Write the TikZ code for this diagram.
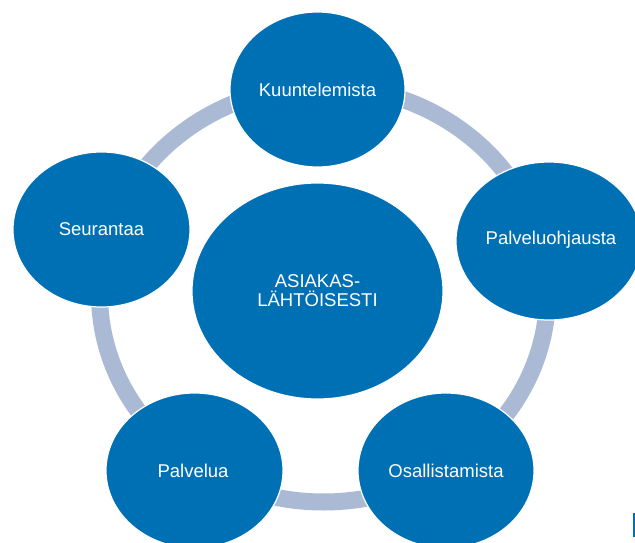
\documentclass[tikz,border=0pt]{standalone}
\usepackage{fontspec}
\setmainfont{Liberation Sans}
\usetikzlibrary{shapes.geometric}
\definecolor{bubbleblue}{RGB}{0,112,181}
\definecolor{ringgray}{RGB}{171,186,212}
\tikzset{
  bubble/.style={ellipse, fill=bubbleblue, draw=white, line width=1.2pt, inner sep=0pt},
  txt/.style={text=white, font=\fontsize{18.5}{19}\selectfont, align=center, inner sep=0pt},
  ringline/.style={draw=ringgray, line width=17pt}
}
\begin{document}
\begin{tikzpicture}[x=1pt, y=-1pt]
\useasboundingbox (0,0) rectangle (635,543);
\clip (0,0) rectangle (635,543);
\fill[white] (0,0) rectangle (635,543);
\coordinate (ringc) at (323.5,294);
\draw[ringline] (ringc) ellipse [x radius=224, y radius=208];
\node[bubble, minimum width=251pt, minimum height=216pt] (center) at (317.5,291) {};
\node[txt] (centertxt) at (center) {ASIAKAS-\\LÄHTÖISESTI};
\node[bubble, minimum width=175pt, minimum height=155pt] (kuu) at (317.5,89.5) {};
\node[txt] (kuutxt) at (kuu) {Kuuntelemista};
\node[bubble, minimum width=186pt, minimum height=158pt] (pal) at (549,241) {};
\node[txt] (paltxt) at (551,240) {Palveluohjausta};
\node[bubble, minimum width=176pt, minimum height=155pt] (osa) at (446,470.5) {};
\node[txt] (osatxt) at (osa) {Osallistamista};
\node[bubble, minimum width=177pt, minimum height=155pt] (pv) at (194.5,470.5) {};
\node[txt] (pvtxt) at (193,470.5) {Palvelua};
\node[bubble, minimum width=177pt, minimum height=155pt] (seu) at (101.5,229.5) {};
\node[txt] (seutxt) at (seu) {Seurantaa};
\fill[bubbleblue] (633,513) rectangle (635,537);
\end{tikzpicture}
\end{document}
